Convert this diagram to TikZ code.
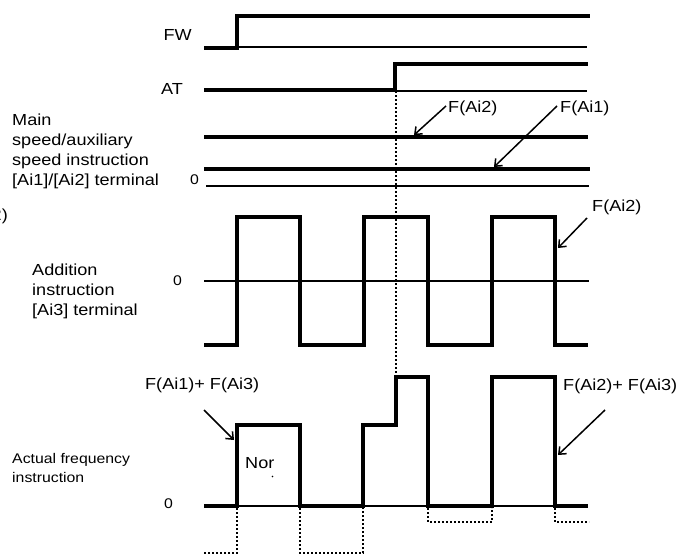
\documentclass[tikz,border=0pt]{standalone}
\usepackage{fontspec}
\setmainfont{Liberation Sans}[FakeStretch=1.13]
\usetikzlibrary{arrows.meta}
\begin{document}
\begin{tikzpicture}[x=1pt,y=-1pt,
  sig/.style={line width=4pt, line join=miter},
  baseln/.style={line width=1.6pt},
  dots/.style={line width=1.8pt, dash pattern=on 2pt off 2pt},
  lbl/.style={inner sep=0pt, font=\fontsize{16}{20}\selectfont},
  small/.style={inner sep=0pt, font=\fontsize{14}{19}\selectfont},
  zero/.style={inner sep=0pt, font=\fontsize{14}{16}\selectfont},
  pointer/.style={line width=1.5pt, -{Straight Barb[length=6pt,width=10pt]}}]
\useasboundingbox (0,0) rectangle (680,557);

% ---------- labels on the left
\node[lbl, anchor=base east] (fw) at (192,40) {FW};
\node[lbl, anchor=base east] (at) at (183,94) {AT};
\node[lbl, anchor=base west] (main) at (12,125)
  {\vtop{\hbox{Main}\hbox{speed/auxiliary}\hbox{speed instruction}\hbox{[Ai1]/[Ai2] terminal}}};
\node[zero, anchor=base east] (z1) at (199,184) {0};
\node[lbl, anchor=base east] (cut) at (8,220) {2)};
\node[lbl, anchor=base west] (add) at (32,275)
  {\vtop{\hbox{Addition}\hbox{instruction}\hbox{[Ai3] terminal}}};
\node[zero, anchor=base east] (z2) at (182,285) {0};
\node[small, anchor=base west] (act) at (12,463)
  {\vtop{\hbox{Actual frequency}\hbox{instruction}}};
\node[zero, anchor=base east] (z3) at (173,508) {0};

% ---------- FW
\draw[baseln] (237,47) -- (587,47);
\draw[sig] (204,48) -- (237,48) -- (237,16) -- (590,16);

% ---------- AT
\draw[baseln] (204,91) -- (587,91);
\draw[sig] (204,90) -- (395,90) -- (395,64) -- (588,64);

% ---------- main / auxiliary speed
\draw[sig] (204,137) -- (588,137);
\draw[sig] (204,169) -- (590,169);
\draw[baseln] (206,186) -- (589,186);

\node[lbl, anchor=base west] (fai2a) at (448,112) {F(Ai2)};
\node[lbl, anchor=base west] (fai1) at (560,112) {F(Ai1)};
\coordinate (fai2aS) at (446,106);
\coordinate (fai2aT) at (414,135);
\coordinate (fai1S) at (557,106);
\coordinate (fai1T) at (494,167);
\draw[pointer] (fai2aS) -- (fai2aT);
\draw[pointer] (fai1S) -- (fai1T);

% ---------- dotted AT marker
\coordinate (dotTop) at (396,91);
\coordinate (dotBot) at (396,377);
\draw[dots] (dotTop) -- (dotBot);

% ---------- addition instruction
\draw[baseln] (204,281) -- (589,281);
\draw[sig] (204,345) -- (237,345) -- (237,217) -- (300,217) -- (300,345)
  -- (364,345) -- (364,217) -- (428,217) -- (428,345)
  -- (492,345) -- (492,217) -- (555,217) -- (555,345) -- (588,345);
\node[lbl, anchor=base west] (fai2b) at (592,211) {F(Ai2)};
\coordinate (fai2bS) at (587,218);
\coordinate (fai2bT) at (558,248);
\draw[pointer] (fai2bS) -- (fai2bT);

% ---------- actual frequency instruction
\draw[baseln] (204,506) -- (588,506);
\draw[sig] (204,506) -- (237,506) -- (237,425) -- (300,425) -- (300,506)
  -- (363,506) -- (363,425) -- (396,425) -- (396,377) -- (428,377) -- (428,506)
  -- (492,506) -- (492,377) -- (555,377) -- (555,506) -- (588,506);
\draw[dots] (237,508) -- (237,553) -- (204,553);
\draw[dots] (300,508) -- (300,553) -- (363,553) -- (363,508);
\draw[dots] (428,508) -- (428,522) -- (492,522) -- (492,508);
\draw[dots] (555,508) -- (555,522) -- (589,522);

\node[lbl, anchor=base west] (sum1) at (145,389) {F(Ai1)+ F(Ai3)};
\node[lbl, anchor=base west] (sum2) at (563,390) {F(Ai2)+ F(Ai3)};
\coordinate (sum1S) at (204,410);
\coordinate (sum1T) at (234,440);
\coordinate (sum2S) at (605,410);
\coordinate (sum2T) at (558,455);
\draw[pointer] (sum1S) -- (sum1T);
\draw[pointer] (sum2S) -- (sum2T);

\node[lbl, anchor=base west] (nor) at (245,468) {Nor};
\node[inner sep=0pt, circle, fill=black, minimum size=1.6pt] (dot) at (272.5,476.5) {};
\end{tikzpicture}
\end{document}
